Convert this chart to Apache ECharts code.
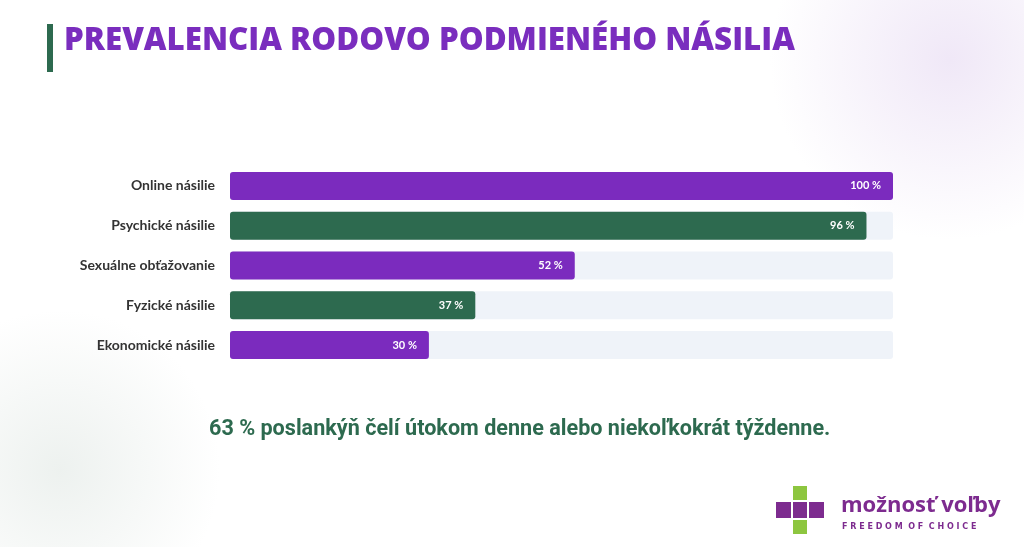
<!DOCTYPE html>
<html><head><meta charset="utf-8">
<script src="https://cdn.jsdelivr.net/npm/echarts@6/dist/echarts.min.js"></script>
<style>
html,body{margin:0;padding:0;width:1024px;height:547px;overflow:hidden;background:#fff;}
#bg{position:absolute;left:0;top:0;width:1024px;height:547px;
background:radial-gradient(circle at 950px 60px, rgba(236,226,245,0.8) 0, rgba(255,255,255,0) 180px),
radial-gradient(circle at 60px 470px, rgba(225,232,228,0.6) 0, rgba(255,255,255,0) 160px),#fff;}
#chart{position:absolute;left:0;top:0;width:1024px;height:547px;}
</style></head>
<body><div id="bg"></div><div id="chart"></div>
<script>
const categories = ['Online násilie','Psychické násilie','Sexuálne obťažovanie','Fyzické násilie','Ekonomické násilie'];
const values = [100, 96, 52, 37, 30];
const barColors = ['#7B2BBE','#2D6A4F','#7B2BBE','#2D6A4F','#7B2BBE'];
const titleText = 'PREVALENCIA RODOVO PODMIENÉHO NÁSILIA';
const noteText = '63 % poslankýň čelí útokom denne alebo niekoľkokrát týždenne.';

const chart = echarts.init(document.getElementById('chart'), null, {renderer:'canvas'});
chart.setOption({
  backgroundColor: 'transparent',
  animation: false,
  grid: {left: 230, right: 131, top: 166, bottom: 182, containLabel: false},
  xAxis: {type:'value', min:0, max:100, show:false},
  yAxis: {type:'category', data: categories, inverse:true,
    axisLine:{show:false}, axisTick:{show:false},
    axisLabel:{color:'#333', fontFamily:'Lato', fontWeight:'bold', fontSize:14, margin:15}},
  series: [{
    type:'bar', barWidth:28,
    showBackground:true,
    backgroundStyle:{color:'#EFF3F9', borderRadius:3},
    data: values.map((v,i)=>({value:v, itemStyle:{color:barColors[i], borderRadius:3}})),
    label:{show:true, position:'insideRight', distance:12, color:'#fff', fontFamily:'Lato', fontWeight:'bold', fontSize:11,
      formatter: p => p.value + ' %'}
  }],
  graphic: [
    {type:'rect', left:47, top:24, shape:{width:6, height:48}, style:{fill:'#2D6A4F'}},
    {type:'text', left:64, top:26, style:{text:titleText, fill:'#7A2DBE', font:'800 31.3px "Open Sans"'}},
    {type:'text', left:209, top:419, style:{text:noteText, fill:'#2D6A4F', font:'bold 21.6px Roboto'}},
    {type:'rect', left:793, top:486, shape:{width:14, height:14}, style:{fill:'#8DC63F'}},
    {type:'rect', left:793, top:520, shape:{width:14, height:14}, style:{fill:'#8DC63F'}},
    {type:'rect', left:776, top:502, shape:{width:15, height:16}, style:{fill:'#7D2B8F'}},
    {type:'rect', left:793, top:502, shape:{width:14, height:16}, style:{fill:'#7D2B8F'}},
    {type:'rect', left:809, top:502, shape:{width:15, height:16}, style:{fill:'#7D2B8F'}},
    {type:'text', left:841, top:495, style:{text:'možnosť voľby', fill:'#7D2B8F', font:'bold 22px "Open Sans"'}},
    {type:'text', left:842, top:523, style:{text:'F R E E D O M  O F  C H O I C E', fill:'#7D2B8F', font:'bold 8px "DejaVu Sans"'}}
  ]
});
</script></body></html>
